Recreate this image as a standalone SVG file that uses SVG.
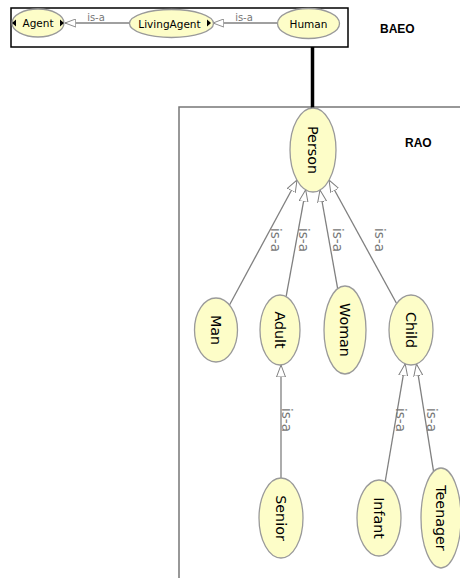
<svg xmlns="http://www.w3.org/2000/svg" width="460" height="578" viewBox="0 0 460 578">
<defs>
<marker id="tri" viewBox="0 0 12 10" refX="12" refY="5" markerWidth="12" markerHeight="10" markerUnits="userSpaceOnUse" orient="auto">
<path d="M0,0.5 L12,5 L0,9.5 Z" fill="#fff" stroke="#808080" stroke-width="1"/>
</marker>
<marker id="triS" viewBox="0 0 12 10" refX="12" refY="5" markerWidth="12" markerHeight="9" markerUnits="userSpaceOnUse" orient="auto">
<path d="M0,0.5 L12,5 L0,9.5 Z" fill="#fff" stroke="#808080" stroke-width="1"/>
</marker>
<style>
.node{fill:#fdfdc8;stroke:#9a9a9a;stroke-width:1.3}
.t{font-family:"DejaVu Sans",sans-serif;fill:#000;text-anchor:middle;dominant-baseline:central}
.t1{font-size:10.5px}
.t2{font-size:14.3px}
.e{stroke:#808080;stroke-width:1.3;fill:none}
.lb{font-family:"DejaVu Sans",sans-serif;fill:#777;text-anchor:middle}
.lb1{font-size:10px}
.lb2{font-size:13.5px;dominant-baseline:central}
.title{font-family:"Liberation Sans",Arial,sans-serif;font-weight:bold;font-size:12px;fill:#000}
.exp{fill:#000}
</style>
</defs>
<rect width="460" height="578" fill="#fff"/>
<g id="baeo-box">
<rect x="11" y="8" width="337" height="39" fill="none" stroke="#000" stroke-width="1.5"/>
<text class="title" x="380" y="33">BAEO</text>
</g>
<g id="rao-box">
<path d="M179,579 L179,107 L461,107" fill="none" stroke="#777" stroke-width="1.5"/>
<text class="title" x="405" y="147">RAO</text>
</g>
<g id="connectors">
<line x1="312.5" y1="47" x2="312.5" y2="108" stroke="#000" stroke-width="3.5"/>
<line class="e" x1="130" y1="23" x2="65" y2="23" marker-end="url(#triS)"/>
<line class="e" x1="277" y1="23" x2="213" y2="23" marker-end="url(#triS)"/>
<line class="e" x1="229.5" y1="305" x2="297" y2="180" marker-end="url(#tri)"/>
<line class="e" x1="286.1" y1="296.7" x2="305.7" y2="189.8" marker-end="url(#tri)"/>
<line class="e" x1="337.7" y1="288.8" x2="320" y2="190" marker-end="url(#tri)"/>
<line class="e" x1="396.6" y1="303.5" x2="329" y2="180" marker-end="url(#tri)"/>
<line class="e" x1="281" y1="478" x2="281" y2="365" marker-end="url(#tri)"/>
<line class="e" x1="385.2" y1="481.5" x2="405.2" y2="363.8" marker-end="url(#tri)"/>
<line class="e" x1="433.6" y1="471.6" x2="416.4" y2="363.9" marker-end="url(#tri)"/>
<text class="lb lb1" x="96" y="21">is-a</text>
<text class="lb lb1" x="244" y="21">is-a</text>
<text class="lb lb2" transform="translate(276,240) rotate(90)">is-a</text>
<text class="lb lb2" transform="translate(303.5,240) rotate(90)">is-a</text>
<text class="lb lb2" transform="translate(337.5,240) rotate(90)">is-a</text>
<text class="lb lb2" transform="translate(380,240) rotate(90)">is-a</text>
<text class="lb lb2" transform="translate(287,420) rotate(90)">is-a</text>
<text class="lb lb2" transform="translate(401,420) rotate(90)">is-a</text>
<text class="lb lb2" transform="translate(431.5,420) rotate(90)">is-a</text>
</g>
<g id="Agent">
<ellipse class="node" cx="38" cy="23" rx="26" ry="14"/>
<polygon class="exp" points="12,23 16,19.5 16,26.5"/>
<polygon class="exp" points="60,19.5 60,26.5 64,23"/>
<text class="t t1" x="38" y="23">Agent</text>
</g>
<g id="LivingAgent">
<ellipse class="node" cx="171.5" cy="23.5" rx="42" ry="14"/>
<polygon class="exp" points="207,19.5 207,26.5 211,23"/>
<text class="t t1" x="169.5" y="23.5">LivingAgent</text>
</g>
<g id="Human">
<ellipse class="node" cx="308.5" cy="23.5" rx="31" ry="15"/>
<text class="t t1" x="308.5" y="23.5">Human</text>
</g>
<g id="Person">
<ellipse class="node" cx="313" cy="150" rx="23" ry="42"/>
<text class="t t2" transform="translate(313,150) rotate(90)">Person</text>
</g>
<g id="Man">
<ellipse class="node" cx="216" cy="330" rx="21.5" ry="32"/>
<text class="t t2" transform="translate(216,330) rotate(90)">Man</text>
</g>
<g id="Adult">
<ellipse class="node" cx="280" cy="330" rx="20" ry="35"/>
<text class="t t2" transform="translate(280,330) rotate(90)">Adult</text>
</g>
<g id="Woman">
<ellipse class="node" cx="345" cy="330" rx="21" ry="44"/>
<text class="t t2" transform="translate(345,330) rotate(90)">Woman</text>
</g>
<g id="Child">
<ellipse class="node" cx="411" cy="330" rx="22" ry="35"/>
<text class="t t2" transform="translate(411,330) rotate(90)">Child</text>
</g>
<g id="Senior">
<ellipse class="node" cx="281" cy="518" rx="22" ry="40"/>
<text class="t t2" transform="translate(281,518) rotate(90)">Senior</text>
</g>
<g id="Infant">
<ellipse class="node" cx="379" cy="518" rx="22" ry="38"/>
<text class="t t2" transform="translate(379,518) rotate(90)">Infant</text>
</g>
<g id="Teenager">
<ellipse class="node" cx="441" cy="518" rx="20" ry="50"/>
<text class="t t2" transform="translate(441,518) rotate(90)">Teenager</text>
</g>
</svg>
